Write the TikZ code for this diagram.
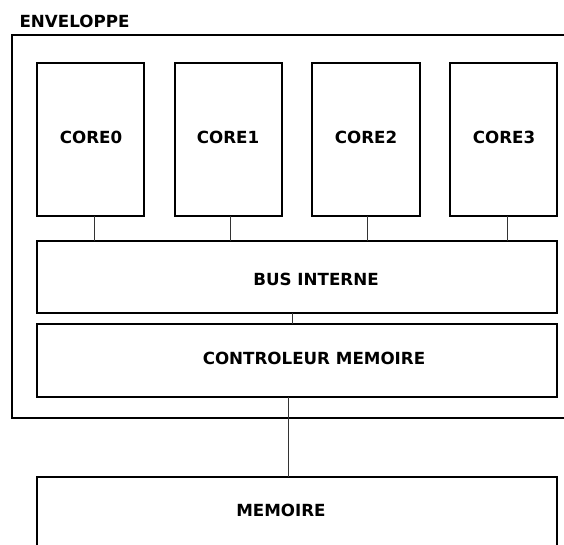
\documentclass[tikz,border=0pt]{standalone}
\usepackage{fontspec}
\setmainfont{DejaVu Sans}
\begin{document}
\begin{tikzpicture}[x=1pt,y=-1pt,
  box/.style={draw=black, line width=2pt, anchor=north west, inner sep=0pt, outer sep=0pt},
  lbl/.style={inner sep=0pt, font=\fontsize{16.7}{19}\selectfont\bfseries},
  wire/.style={draw=black!80, line width=1pt}]
\useasboundingbox (0,0) rectangle (564,544);
\clip (0,0) rectangle (564,544);
\fill[white] (0,0) rectangle (564,544);
% envelope
\node[box, line width=2.4pt, minimum width=620pt, minimum height=383pt] (env) at (12,35) {};
\node[lbl] (envl) at (74.5,21) {ENVELOPPE};
% cores
\node[box, minimum width=107pt, minimum height=153pt] (c0) at (37,63) {};
\node[box, minimum width=107pt, minimum height=153pt] (c1) at (175,63) {};
\node[box, minimum width=108pt, minimum height=153pt] (c2) at (312,63) {};
\node[box, minimum width=107pt, minimum height=153pt] (c3) at (450,63) {};
\node[lbl] (c0l) at (91,137) {CORE0};
\node[lbl] (c1l) at (228,137) {CORE1};
\node[lbl] (c2l) at (366,137) {CORE2};
\node[lbl] (c3l) at (504,137) {CORE3};
% bus, controller, memory
\node[box, minimum width=520pt, minimum height=72pt] (bus) at (37,241) {};
\node[lbl] (busl) at (316,279.5) {BUS INTERNE};
\node[box, minimum width=520pt, minimum height=73pt] (ctl) at (37,324) {};
\node[lbl] (ctll) at (314,358) {CONTROLEUR MEMOIRE};
\node[box, minimum width=520pt, minimum height=120pt] (mem) at (37,477) {};
\node[lbl] (meml) at (281,510) {MEMOIRE};
% connectors
\draw[wire] ([xshift=3.5pt]c0.south) -- ([xshift=3.5pt]c0.south |- bus.north);
\draw[wire] ([xshift=1.5pt]c1.south) -- ([xshift=1.5pt]c1.south |- bus.north);
\draw[wire] ([xshift=1pt]c2.south) -- ([xshift=1pt]c2.south |- bus.north);
\draw[wire] ([xshift=3.5pt]c3.south) -- ([xshift=3.5pt]c3.south |- bus.north);
\draw[wire] ([xshift=-5pt]bus.south) -- ([xshift=-5pt]bus.south |- ctl.north);
\draw[wire] ([xshift=-9pt]ctl.south) -- ([xshift=-9pt]ctl.south |- mem.north);
\end{tikzpicture}
\end{document}
